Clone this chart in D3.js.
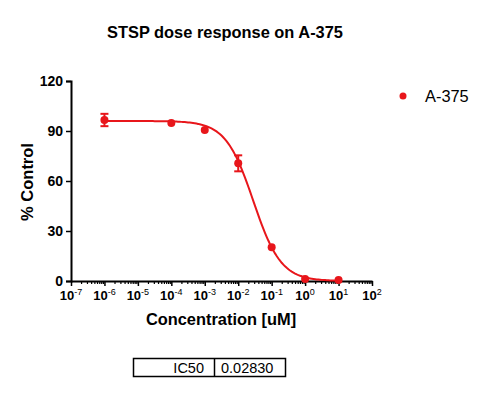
<!DOCTYPE html>
<html>
<head>
<meta charset="utf-8">
<title>STSP dose response</title>
<style>
  body { margin: 0; background: #fff; }
  text { font-family: "Liberation Sans", Arial, sans-serif; }
</style>
</head>
<body>
<script src="https://d3js.org/d3.v7.min.js"></script>
<script>

// data
var conc    = [1e-6, 1e-4, 1e-3, 1e-2, 1e-1, 1, 10];
var control = [96.6, 94.8, 90.6, 70.6, 20.2, 1.2, 0.6];
var errs    = [3.7, 0, 0, 4.8, 0, 0, 0];

// fitted 4PL parameters
var fitTop = 96, fitBottom = 0, ic50 = 0.0283, hill = 1.05;
var ic50Label = "0.02830";

var xDecades = [-7, -6, -5, -4, -3, -2, -1, 0, 1, 2];
var yTicks = [0, 30, 60, 90, 120];

var red = "#e8161b";

var svg = d3.select("body").append("svg")
    .attr("width", 490)
    .attr("height", 399);

var x = d3.scaleLog().domain([1e-7, 1e2]).range([71, 372]);
var y = d3.scaleLinear().domain([0, 120]).range([281, 81]);

// title
svg.append("text")
    .attr("x", 225).attr("y", 38)
    .attr("text-anchor", "middle")
    .attr("font-size", 16.4).attr("font-weight", "bold")
    .text("STSP dose response on A-375");

// y axis
var yAxis = svg.append("g")
    .attr("transform", "translate(71,0)")
    .call(d3.axisLeft(y).tickValues(yTicks).tickSize(5).tickPadding(3));
yAxis.select(".domain").attr("stroke-width", 2);
yAxis.selectAll(".tick line").attr("stroke-width", 1.5);
yAxis.selectAll(".tick text")
    .attr("font-size", 14).attr("font-weight", "bold")
    .attr("font-family", "Liberation Sans, Arial, sans-serif").attr("fill", "#000");

svg.append("text")
    .attr("transform", "translate(33,182) rotate(-90)")
    .attr("text-anchor", "middle")
    .attr("font-size", 16.5).attr("font-weight", "bold")
    .text("% Control");

// x axis: minor ticks
var minor = [];
xDecades.slice(0, -1).forEach(function(e){
  for (var k = 2; k <= 9; k++) minor.push(k * Math.pow(10, e));
});
var xMinor = svg.append("g")
    .attr("transform", "translate(0,281)")
    .call(d3.axisBottom(x).tickValues(minor).tickSize(3).tickFormat(""));
xMinor.select(".domain").remove();
xMinor.selectAll(".tick line").attr("stroke-width", 1.2);

var xAxis = svg.append("g")
    .attr("transform", "translate(0,281)")
    .call(d3.axisBottom(x)
      .tickValues(xDecades.map(function(e){ return Math.pow(10, e); }))
      .tickSize(5).tickSizeOuter(0).tickFormat(""));
xAxis.select(".domain").attr("stroke-width", 2);
xAxis.selectAll(".tick line").attr("stroke-width", 1.5);

var labels = svg.append("g").selectAll("text")
    .data(xDecades)
    .enter().append("text")
    .attr("x", function(e){ return x(Math.pow(10, e)); })
    .attr("y", 300)
    .attr("text-anchor", "middle")
    .attr("font-size", 13).attr("font-weight", "bold");
labels.append("tspan").text("10");
labels.append("tspan")
    .attr("dy", -5).attr("font-size", 9).attr("font-weight", "normal")
    .text(function(e){ return e; });

svg.append("text")
    .attr("x", 221).attr("y", 325)
    .attr("text-anchor", "middle")
    .attr("font-size", 16.4).attr("font-weight", "bold")
    .text("Concentration [uM]");

// fitted curve
var curveX = d3.range(-6, 1.0001, 0.05).map(function(e){ return Math.pow(10, e); });
var line = d3.line()
    .x(function(c){ return x(c); })
    .y(function(c){ return y(fitBottom + (fitTop - fitBottom) / (1 + Math.pow(c / ic50, hill))); });
svg.append("path")
    .datum(curveX)
    .attr("d", line)
    .attr("fill", "none")
    .attr("stroke", red)
    .attr("stroke-width", 2);

// error bars
var eb = svg.append("g").attr("stroke", red).attr("stroke-width", 2);
conc.forEach(function(c, i){
  if (!errs[i]) return;
  var cx = x(c), y1 = y(control[i] + errs[i]), y2 = y(control[i] - errs[i]);
  eb.append("line").attr("x1", cx).attr("x2", cx).attr("y1", y1).attr("y2", y2);
  eb.append("line").attr("x1", cx - 4).attr("x2", cx + 4).attr("y1", y1).attr("y2", y1);
  eb.append("line").attr("x1", cx - 4).attr("x2", cx + 4).attr("y1", y2).attr("y2", y2);
});

// points
svg.append("g").selectAll("circle")
    .data(conc)
    .enter().append("circle")
    .attr("cx", function(c){ return x(c); })
    .attr("cy", function(c, i){ return y(control[i]); })
    .attr("r", 4)
    .attr("fill", red);

// legend
svg.append("circle").attr("cx", 403).attr("cy", 96).attr("r", 3.5).attr("fill", red);
svg.append("text")
    .attr("x", 425).attr("y", 101.5)
    .attr("font-size", 16.4)
    .text("A-375");

// IC50 table
var tb = svg.append("g");
tb.append("rect")
    .attr("x", 133.5).attr("y", 358.5).attr("width", 152).attr("height", 18)
    .attr("fill", "none").attr("stroke", "#000").attr("stroke-width", 1.5);
tb.append("line")
    .attr("x1", 214.5).attr("x2", 214.5).attr("y1", 358.5).attr("y2", 376.5)
    .attr("stroke", "#000").attr("stroke-width", 1.5);
tb.append("text")
    .attr("x", 204).attr("y", 373)
    .attr("text-anchor", "end").attr("font-size", 14.5)
    .text("IC50");
tb.append("text")
    .attr("x", 221).attr("y", 373)
    .attr("font-size", 14.5)
    .text(ic50Label);

</script>
</body>
</html>
